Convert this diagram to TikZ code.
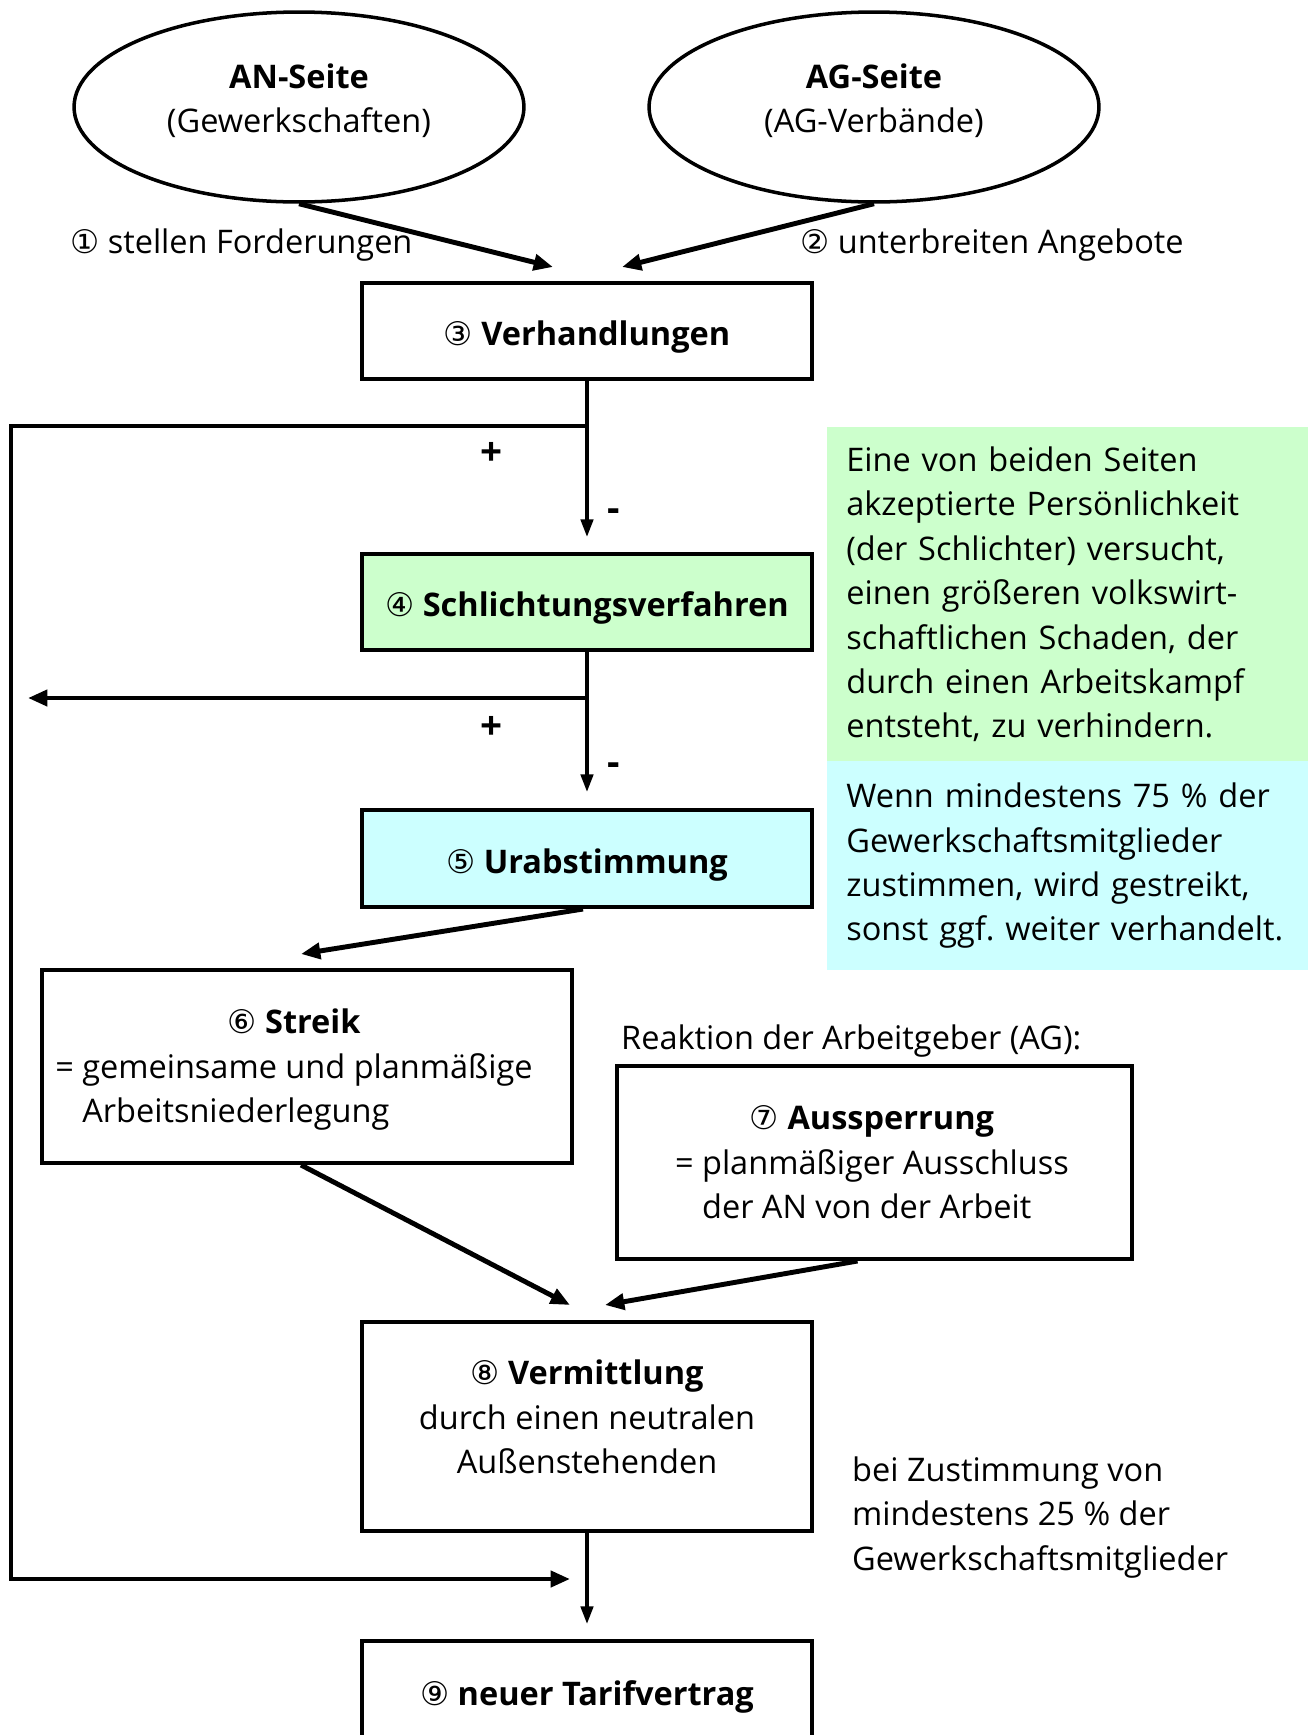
\documentclass[tikz,border=0pt]{standalone}
\usepackage{fontspec}
\setmainfont{Open Sans}
\newfontfamily\kreis{DejaVu Sans}
\usetikzlibrary{shapes.geometric,arrows.meta,calc}
\definecolor{hellgruen}{HTML}{CCFFCC}
\definecolor{hellblau}{HTML}{CCFFFF}
\newcommand{\nr}[1]{{\kreis\mdseries #1}}
\frenchspacing
\tikzset{
	kasten/.style={draw, line width=2.3pt, minimum width=9cm, minimum height=1.92cm, inner sep=0pt, text height=20pt, text depth=3pt},
	seite/.style={ellipse, draw, line width=2pt, minimum width=9cm, minimum height=3.8cm, align=center, text depth=10pt},
	infokasten/.style={anchor=north west, text width=8.86cm, align=left, inner xsep=0.38cm, inner ysep=0pt, minimum width=9.62cm},
	duenn/.style={line width=2pt, -{Triangle[length=10pt,width=7pt]}},
	linie/.style={line width=2.6pt},
	schraeg/.style={line width=2.8pt, -{Triangle[length=11pt,width=9pt]}},
	zeichen/.style={font=\fontsize{22}{25}\selectfont\bfseries}
}
\begin{document}
\begin{tikzpicture}[x=0.02cm, y=-0.02cm, font=\fontsize{18.5}{25.3}\selectfont]
	\path[use as bounding box, fill=white] (0,0) rectangle (1312,1735);
	% Tarifparteien
	\node[seite] (anseite) at (299,107) {\textbf{AN-Seite}\\(Gewerkschaften)};
	\node[seite] (agseite) at (874,107) {\textbf{AG-Seite}\\(AG-Verbände)};
	\coordinate (zu1) at (553,267);
	\coordinate (zu2) at (622,267);
	\draw[schraeg] (anseite.south) -- (zu1);
	\draw[schraeg] (agseite.south) -- (zu2);
	\node[anchor=west] (forderung) at (64,245.5) {\nr{①} stellen Forderungen};
	\node[anchor=west] (angebot) at (794,245.5) {\nr{②} unterbreiten Angebote};
	% Ablauf
	\node[kasten] (verhandlungen) at (587,331) {\nr{③} \textbf{Verhandlungen}};
	\node[kasten, fill=hellgruen] (schlichtung) at (587,602) {\nr{④} \textbf{Schlichtungsverfahren}};
	\node[kasten, fill=hellblau, minimum height=1.94cm] (urabstimmung) at (587,858.5) {\nr{⑤} \textbf{Urabstimmung}};
	\node[kasten, minimum width=10.6cm, minimum height=3.86cm] (streik) at (307,1066.5) {};
	\node (streiktext) at (294,1069.5) {\begin{tabular}{@{}l@{}}
		\multicolumn{1}{@{}c@{}}{\nr{⑥} \textbf{Streik}}\\
		= gemeinsame und planmäßige\\
		\hphantom{= }Arbeitsniederlegung
	\end{tabular}};
	\node[anchor=west] (reaktion) at (615,1041.5) {Reaktion der Arbeitgeber (AG):};
	\node[kasten, minimum width=10.3cm, minimum height=3.86cm] (aussperrung) at (874.5,1162.5) {};
	\node (aussperrungtext) at (872,1165.5) {\begin{tabular}{@{}l@{}}
		\multicolumn{1}{@{}c@{}}{\nr{⑦} \textbf{Aussperrung}}\\
		= planmäßiger Ausschluss\\
		\hphantom{= }der AN von der Arbeit
	\end{tabular}};
	\node[kasten, minimum height=4.18cm] (vermittlung) at (587,1426.5) {};
	\node[align=center] (vermittlungtext) at (587,1417) {\nr{⑧} \textbf{Vermittlung}\\durch einen neutralen\\Außenstehenden};
	\node[kasten, minimum height=2cm] (tarifvertrag) at (587,1691) {\nr{⑨} \textbf{neuer Tarifvertrag}};
	% Erläuterungen
	\node[infokasten, fill=hellgruen, minimum height=6.68cm] (schlichterinfo) at (827,427) {Eine von beiden Seiten\\akzeptierte Persönlichkeit\\(der Schlichter) versucht,\\einen größeren volkswirt-\\schaftlichen Schaden, der\\durch einen Arbeitskampf\\entsteht, zu verhindern.};
	\node[infokasten, fill=hellblau, minimum height=4.18cm] (urabstimmunginfo) at (827,761) {Wenn mindestens 75 \% der\\Gewerkschaftsmitglieder\\zustimmen, wird gestreikt,\\sonst ggf. weiter verhandelt.};
	\node[anchor=west, align=left] (zustimmung) at (846,1517.5) {bei Zustimmung von\\mindestens 25 \% der\\Gewerkschaftsmitglieder};
	% Verbindungen
	\coordinate (ab1) at (587,426);
	\coordinate (li1) at (11,426);
	\coordinate (li2) at (11,1579);
	\coordinate (ziel1) at (570,1579);
	\coordinate (ende1) at (587,537);
	\draw[duenn] (verhandlungen.south) -- (ende1);
	\draw[linie, -{Triangle[length=11pt,width=9pt]}] (ab1) -- (li1) -- (li2) -- (ziel1);
	\node[zeichen] (plus1) at (492,454) {+};
	\node[zeichen] (minus1) at (614,515) {-};
	\coordinate (ab2) at (587,698);
	\coordinate (li3) at (28,698);
	\coordinate (ende2) at (587,792);
	\draw[duenn] (schlichtung.south) -- (ende2);
	\draw[linie, -{Triangle[length=11pt,width=9pt]}] (ab2) -- (li3);
	\node[zeichen] (plus2) at (492,728) {+};
	\node[zeichen] (minus2) at (614,769) {-};
	\coordinate (zu3) at (301,954);
	\coordinate (zu4) at (570,1305);
	\coordinate (zu5) at (605,1305);
	\coordinate (zu6) at (587,1624);
	\draw[schraeg] ($(urabstimmung.south)+(-4,0)$) -- (zu3);
	\draw[schraeg] ($(streik.south)+(-6,0)$) -- (zu4);
	\draw[schraeg] ($(aussperrung.south)+(-17,0)$) -- (zu5);
	\draw[duenn] (vermittlung.south) -- (zu6);
\end{tikzpicture}
\end{document}
